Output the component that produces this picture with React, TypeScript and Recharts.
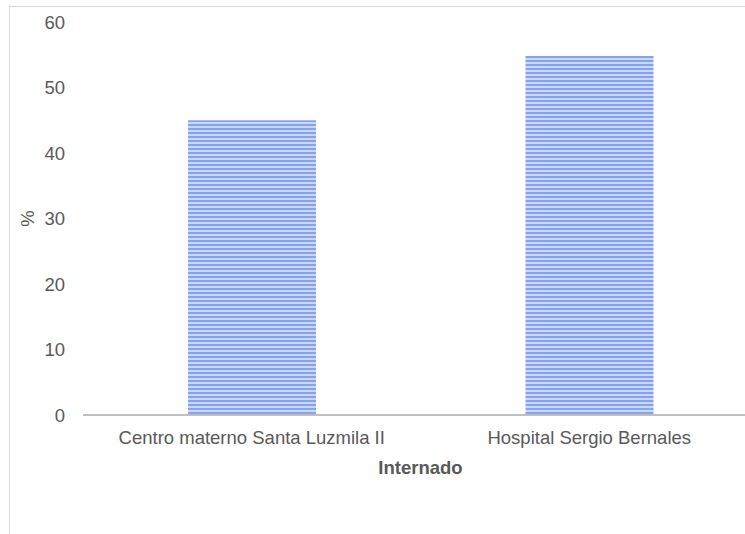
import { BarChart, Bar, XAxis, YAxis } from "recharts"

const categories = ["Centro materno Santa Luzmila II", "Hospital Sergio Bernales"]
const percentValues = [45, 54.8]
const yTicks = [0, 10, 20, 30, 40, 50, 60]

const data = categories.map((name, i) => ({ name, value: percentValues[i] }))

const font = "'Liberation Sans', Arial, sans-serif"
const textColor = "#595959"

function PercentLabel(props: any) {
  const vb = props.viewBox || {}
  const cx = 27
  const cy = vb.y + vb.height / 2
  return (
    <text
      x={cx}
      y={cy}
      transform={`rotate(-90 ${cx} ${cy})`}
      textAnchor="middle"
      dominantBaseline="central"
      fill={textColor}
      fontSize={18.5}
      fontFamily={font}
    >
      %
    </text>
  )
}

export default function App() {
  return (
    <div style={{ position: "absolute", left: 0, top: 0, width: 745, height: 534, overflow: "hidden", background: "#fff" }}>
      <div
        style={{
          position: "absolute",
          left: 9,
          top: 6,
          width: 800,
          height: 600,
          borderLeft: "1px solid #d9d9d9",
          borderTop: "1px solid #d9d9d9",
        }}
      />
      <div style={{ position: "absolute", left: 0, top: 0 }}>
        <BarChart width={770} height={534} data={data} margin={{ top: 22, right: 12, left: 0, bottom: 59 }}>
          <defs>
            <pattern id="stripes" width="4" height="4" patternUnits="userSpaceOnUse">
              <rect width="4" height="4" fill="#c9d7fb" />
              <rect width="4" height="2" fill="#86a3f1" />
            </pattern>
          </defs>
          <XAxis
            dataKey="name"
            height={60}
            axisLine={{ stroke: "#bfbfbf", strokeWidth: 2 }}
            tickLine={false}
            tickMargin={10}
            tick={{ fill: textColor, fontSize: 18.5, fontFamily: font }}
            interval={0}
            label={{
              value: "Internado",
              position: "insideBottom",
              offset: 1,
              fill: textColor,
              fontSize: 18.5,
              fontWeight: "bold",
              fontFamily: font,
            }}
          />
          <YAxis
            width={83}
            domain={[0, 60]}
            ticks={yTicks}
            axisLine={false}
            tickLine={false}
            tickMargin={12}
            tick={{ fill: textColor, fontSize: 18.5, fontFamily: font }}
            label={<PercentLabel />}
          />
          <Bar dataKey="value" fill="url(#stripes)" barSize={128} isAnimationActive={false} />
        </BarChart>
      </div>
    </div>
  )
}
